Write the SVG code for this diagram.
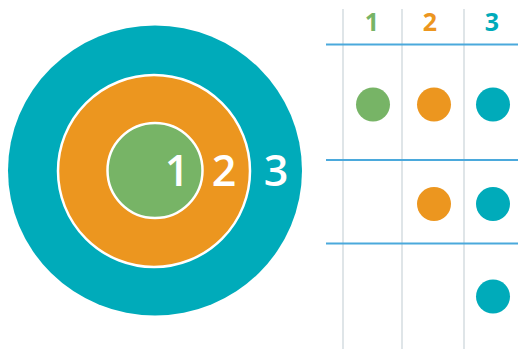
<svg xmlns="http://www.w3.org/2000/svg" width="518" height="349" viewBox="0 0 518 349">
<style>
.num{font-family:"Open Sans","Liberation Sans",sans-serif;font-weight:600;text-anchor:middle}
.big{font-size:43px;fill:#fff}
.hd{font-size:25px;font-weight:700}
.vl{stroke:#d5dde1;stroke-width:1.5}
.hl{stroke:#4ba9dc;stroke-width:2}
.g{fill:#77b466}.o{fill:#ec961f}.t{fill:#00abba}
</style>
<rect width="518" height="349" fill="#fff"/>
<g id="ring3"><ellipse cx="155" cy="170.5" rx="147" ry="145" class="t"/></g>
<g id="ring2"><circle cx="154" cy="171" r="96" class="o" stroke="#fff" stroke-width="2.5"/></g>
<g id="ring1"><circle cx="155" cy="170.5" r="47.5" class="g" stroke="#fff" stroke-width="2.5"/></g>
<g id="labels">
<text class="num big" x="177" y="186">1</text>
<text class="num big" x="224" y="186">2</text>
<text class="num big" x="276" y="186">3</text>
</g>
<g id="table">
<line class="vl" x1="343" y1="9" x2="343" y2="349"/>
<line class="vl" x1="402" y1="9" x2="402" y2="349"/>
<line class="vl" x1="464" y1="9" x2="464" y2="349"/>
<line class="hl" x1="326" y1="44.5" x2="518" y2="44.5"/>
<line class="hl" x1="326" y1="160" x2="518" y2="160"/>
<line class="hl" x1="326" y1="243.5" x2="518" y2="243.5"/>
<text class="num hd g" x="372" y="31">1</text>
<text class="num hd o" x="430" y="31">2</text>
<text class="num hd t" x="492" y="31">3</text>
</g>
<g id="dots">
<circle cx="373" cy="104.5" r="17" class="g"/>
<circle cx="434" cy="104.5" r="17" class="o"/>
<circle cx="493" cy="104.5" r="17" class="t"/>
<circle cx="434" cy="204" r="17" class="o"/>
<circle cx="493" cy="204" r="17" class="t"/>
<circle cx="493" cy="296.5" r="17" class="t"/>
</g>
</svg>
